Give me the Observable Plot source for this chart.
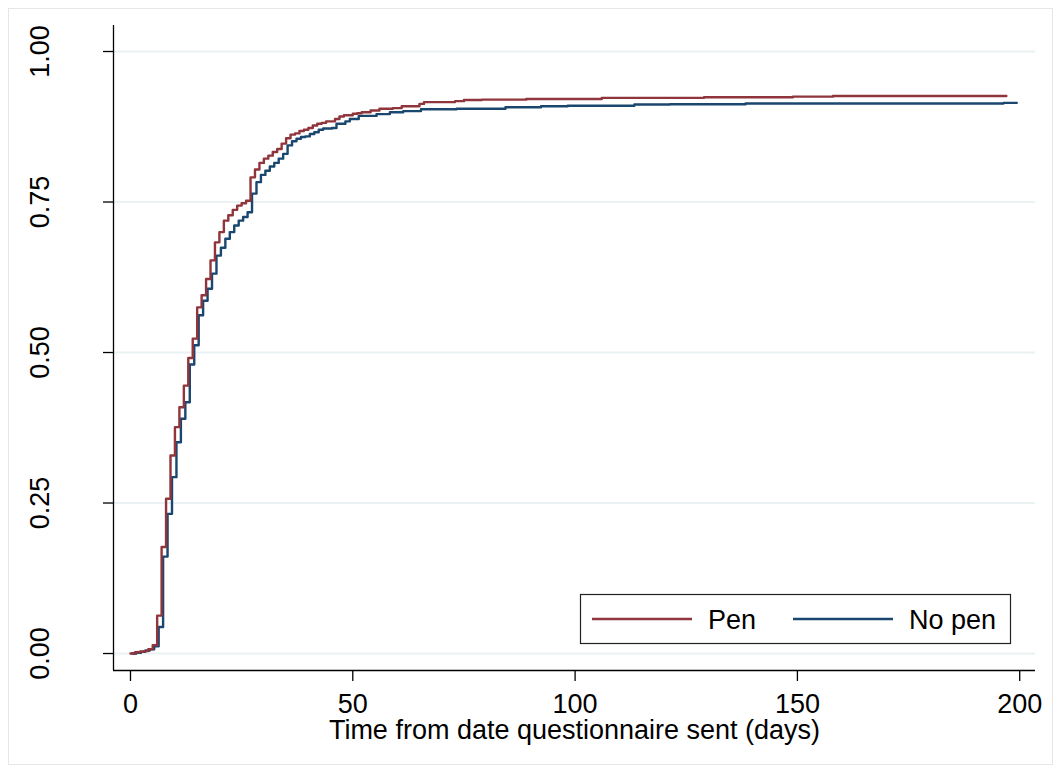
<!DOCTYPE html>
<html>
<head>
<meta charset="utf-8">
<script src="https://cdn.jsdelivr.net/npm/d3@7"></script>
<script src="https://cdn.jsdelivr.net/npm/@observablehq/plot@0.6"></script>
<style>
  html, body { margin: 0; padding: 0; background: white; }
  #wrap { position: relative; width: 1060px; height: 772px; overflow: hidden; }
  #border { position: absolute; left: 8px; top: 8px; width: 1043px; height: 755px; border: 1px solid #e6e6e6; pointer-events: none; }
</style>
</head>
<body>
<div id="wrap"></div>
<script>
// ---- data ----
const groups = ["Pen", "No pen"];
const groupColors = ["#90353b", "#1a476f"];

const penDays = [0,1,2,3,4,5,6,7,8,9,10,11,12,13,14,15,16,17,18,19,20,21,22,23,24,25,26,27,28,29,30,31,32,33,34,35,36,37,38,39,40,41,42,43,44,46,47,48,50,51,52,54,56,59,61,65,66,73,75,79,89,106,129,149,158,197];
const penValues = [0,0.002,0.003,0.004,0.007,0.014,0.063,0.177,0.257,0.329,0.376,0.409,0.445,0.491,0.523,0.575,0.595,0.622,0.653,0.683,0.700,0.719,0.728,0.737,0.744,0.748,0.752,0.791,0.804,0.815,0.822,0.827,0.833,0.838,0.847,0.856,0.862,0.864,0.868,0.870,0.873,0.877,0.880,0.8815,0.884,0.888,0.892,0.894,0.8965,0.8975,0.899,0.902,0.905,0.906,0.909,0.913,0.916,0.9175,0.9195,0.920,0.921,0.923,0.924,0.925,0.926,0.926];

const noPenDays = [0,1,2,3,4,5,6,7,8,9,10,11,12,13,14,15,16,17,18,19,20,21,22,23,24,25,26,27,28,29,30,31,32,33,34,35,36,37,38,39,40,41,42,43,45,46,48,49,51,55,58,61,65,73,84,92,98,113,121,138,196,199];
const noPenValues = [0,0.001,0.003,0.005,0.007,0.012,0.044,0.161,0.232,0.293,0.351,0.390,0.4175,0.480,0.512,0.562,0.586,0.606,0.631,0.661,0.674,0.689,0.700,0.711,0.719,0.725,0.733,0.764,0.783,0.795,0.802,0.809,0.815,0.822,0.830,0.844,0.851,0.855,0.858,0.859,0.863,0.866,0.870,0.872,0.873,0.880,0.884,0.888,0.893,0.896,0.899,0.901,0.904,0.905,0.9075,0.909,0.910,0.912,0.9125,0.9136,0.9147,0.9147];

const xTicks = [0, 50, 100, 150, 200];
const yTicks = [0, 0.25, 0.5, 0.75, 1];
const xDomain = [-3.82, 203.55];
const yDomain = [-0.0282, 1.0432];
const xTitle = "Time from date questionnaire sent (days)";

// ---- tables ----
const pen = penDays.map((d, i) => ({day: d, value: penValues[i], group: groups[0]}));
const noPen = noPenDays.map((d, i) => ({day: d, value: noPenValues[i], group: groups[1]}));

const FONT = "'Liberation Sans', Arial, Helvetica, sans-serif";
const FS = 27;

const chart = Plot.plot({
  width: 1060,
  height: 772,
  marginLeft: 113,
  marginRight: 25,
  marginTop: 25,
  marginBottom: 102,
  x: {domain: xDomain, ticks: xTicks},
  y: {domain: yDomain, ticks: yTicks},
  style: {fontFamily: FONT, fontSize: FS + "px", color: "black", background: "white", overflow: "visible"},
  marks: [
    Plot.gridY(yTicks, {stroke: "#eaf2f3", strokeOpacity: 1, strokeWidth: 2}),
    Plot.ruleX([xDomain[0]], {stroke: "#000", strokeWidth: 1.3}),
    Plot.ruleY([yDomain[0]], {stroke: "#000", strokeWidth: 1.3}),
    Plot.axisX({ticks: xTicks, tickSize: 11, tickPadding: 12, label: null, fontSize: FS, strokeWidth: 1.3}),
    Plot.axisY({ticks: yTicks, tickSize: 10, tickPadding: 55, tickRotate: -90, tickFormat: d3.format(".2f"), label: null, fontSize: FS, strokeWidth: 1.3}),
    Plot.line(noPen, {x: "day", y: "value", curve: "step-after", stroke: groupColors[1], strokeWidth: 2.4, dx: 1.5}),
    Plot.line(pen, {x: "day", y: "value", curve: "step-after", stroke: groupColors[0], strokeWidth: 2.4}),
    Plot.text([xTitle], {frameAnchor: "bottom", dy: 68, lineAnchor: "bottom", fontSize: FS, fill: "black"})
  ]
});

const wrap = document.getElementById("wrap");
wrap.appendChild(chart);

// legend (inside plot region, lower right)
const ns = "http://www.w3.org/2000/svg";
const lg = document.createElementNS(ns, "svg");
lg.setAttribute("width", "1060");
lg.setAttribute("height", "772");
lg.style.position = "absolute";
lg.style.left = "0px";
lg.style.top = "0px";
lg.innerHTML = `
  <rect x="580.5" y="594.5" width="430" height="49" fill="white" stroke="#222" stroke-width="1.2"/>
  <line x1="592" x2="692" y1="619" y2="619" stroke="${groupColors[0]}" stroke-width="2.4"/>
  <text x="708" y="629" font-family="${FONT}" font-size="${FS}" fill="black">${groups[0]}</text>
  <line x1="793" x2="893" y1="619" y2="619" stroke="${groupColors[1]}" stroke-width="2.4"/>
  <text x="909" y="629" font-family="${FONT}" font-size="${FS}" fill="black">${groups[1]}</text>`;
wrap.appendChild(lg);

const b = document.createElement("div");
b.id = "border";
wrap.appendChild(b);
</script>
</body>
</html>
